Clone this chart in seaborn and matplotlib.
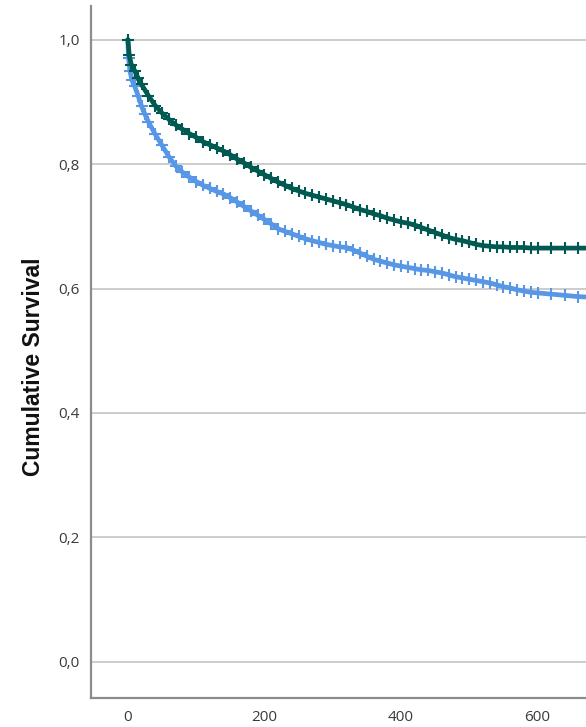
import matplotlib

matplotlib.use("Agg")
import matplotlib.pyplot as plt
import numpy as np
import pandas as pd
import seaborn as sns
from matplotlib.ticker import FuncFormatter

# Kaplan-Meier estimates (days, cumulative survival)
dark_days = [0, 2, 5, 10, 15, 20, 30, 40, 50, 60, 70, 80, 90, 100, 110, 120,
             130, 140, 150, 160, 170, 180, 190, 200, 210, 220, 230, 240, 250,
             260, 270, 280, 290, 300, 310, 320, 330, 340, 350, 360, 370, 380,
             390, 400, 410, 420, 430, 440, 450, 460, 470, 480, 490, 500, 510,
             520, 530, 540, 550, 560, 570, 580, 590, 600, 620, 640, 660, 680]
dark_surv = [1.000, 0.975, 0.960, 0.950, 0.938, 0.928, 0.910, 0.894, 0.882,
             0.872, 0.863, 0.856, 0.849, 0.843, 0.836, 0.831, 0.826, 0.821,
             0.815, 0.808, 0.802, 0.795, 0.789, 0.783, 0.777, 0.771, 0.766,
             0.761, 0.757, 0.753, 0.750, 0.747, 0.744, 0.741, 0.738, 0.735,
             0.731, 0.727, 0.724, 0.720, 0.717, 0.713, 0.710, 0.707, 0.705,
             0.702, 0.698, 0.694, 0.690, 0.686, 0.682, 0.679, 0.677, 0.674,
             0.671, 0.669, 0.668, 0.667, 0.667, 0.666, 0.666, 0.666, 0.665,
             0.665, 0.665, 0.665, 0.665, 0.665]

light_days = [0, 1, 3, 6, 10, 15, 20, 25, 30, 40, 50, 60, 70, 80, 90, 100,
              110, 120, 130, 140, 150, 160, 170, 180, 190, 200, 210, 220, 230,
              240, 250, 260, 270, 280, 290, 300, 310, 320, 330, 340, 350, 360,
              370, 380, 390, 400, 410, 420, 430, 440, 450, 460, 470, 480, 490,
              500, 510, 520, 530, 540, 550, 560, 570, 580, 590, 600, 620, 640,
              660, 680]
light_surv = [1.000, 0.970, 0.950, 0.935, 0.925, 0.910, 0.893, 0.880, 0.868,
              0.848, 0.830, 0.812, 0.797, 0.787, 0.779, 0.772, 0.766, 0.761,
              0.756, 0.752, 0.746, 0.739, 0.732, 0.725, 0.718, 0.711, 0.704,
              0.696, 0.692, 0.688, 0.684, 0.680, 0.677, 0.674, 0.671, 0.669,
              0.667, 0.666, 0.662, 0.657, 0.652, 0.647, 0.644, 0.641, 0.638,
              0.636, 0.634, 0.632, 0.630, 0.629, 0.627, 0.625, 0.622, 0.619,
              0.617, 0.615, 0.613, 0.611, 0.609, 0.606, 0.603, 0.601, 0.598,
              0.596, 0.594, 0.593, 0.591, 0.589, 0.587, 0.586]

x_ticks = [0, 200, 400, 600]
y_ticks = [0.0, 0.2, 0.4, 0.6, 0.8, 1.0]

DARK = "#005a51"
LIGHT = "#5797e6"

sns.set_style("white")
plt.rcParams["font.family"] = ["Open Sans", "DejaVu Sans"]

df = pd.concat([
    pd.DataFrame({"days": dark_days, "surv": dark_surv, "group": "dark"}),
    pd.DataFrame({"days": light_days, "surv": light_surv, "group": "light"}),
])

fig = plt.figure(figsize=(5.86, 7.27), dpi=100)
ax = fig.add_axes([0.1553, 0.0399, 0.8447, 0.9518])

for grp, color in [("light", LIGHT), ("dark", DARK)]:
    sub = df[df["group"] == grp]
    sns.lineplot(data=sub, x="days", y="surv", ax=ax, color=color,
                 linewidth=3.4, marker="+", markersize=8,
                 markeredgewidth=1.5, markeredgecolor=color,
                 legend=False, zorder=3)

ax.set_xlim(-54, 671)
ax.set_ylim(-0.058, 1.054)
ax.set_xticks(x_ticks)
ax.set_yticks(y_ticks)
ax.yaxis.set_major_formatter(FuncFormatter(lambda v, _: f"{v:.1f}".replace(".", ",")))
ax.yaxis.grid(True, color="#c8c8c8", linewidth=1.3, zorder=0)
ax.xaxis.grid(False)
ax.tick_params(axis="both", length=0, labelsize=11, colors="#3a3a3a")
ax.tick_params(axis="y", pad=8)
ax.tick_params(axis="x", pad=9)

for side in ["top", "right"]:
    ax.spines[side].set_visible(False)
for side in ["left", "bottom"]:
    ax.spines[side].set_color("#8c8c8c")
    ax.spines[side].set_linewidth(1.6)

ax.set_xlabel("")
ax.set_ylabel("Cumulative Survival", fontsize=16.5, fontweight="bold",
              family=["Liberation Sans", "DejaVu Sans"], color="#111111")
ax.yaxis.set_label_coords(-0.093, 0.478)

fig.savefig("out.png", dpi=100)
